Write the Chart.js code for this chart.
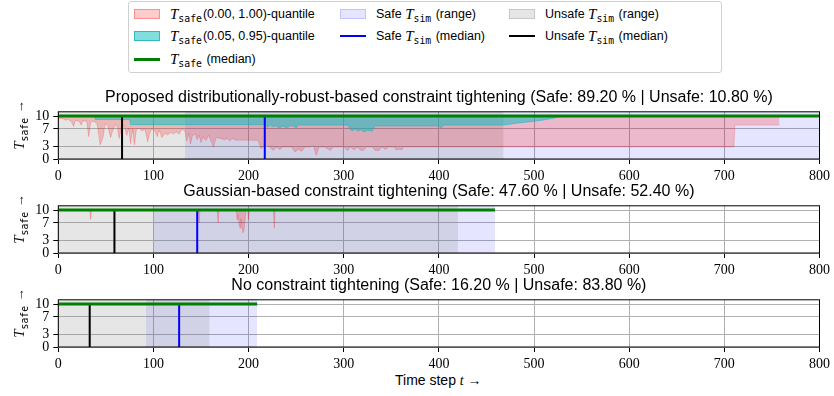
<!DOCTYPE html>
<html>
<head>
<meta charset="utf-8">
<script src="https://cdn.jsdelivr.net/npm/chart.js@4.4.1/dist/chart.umd.min.js"></script>
<style>
  body { margin:0; width:834px; height:396px; position:relative; overflow:hidden; background:#fff; font-family:'Liberation Sans', sans-serif; }
  .panel { position:absolute; left:0; width:834px; height:97px; }
  #legend { position:absolute; left:128px; top:1px; width:594px; height:72px; box-sizing:border-box; border:1px solid #d0d0d0; border-radius:3px; font-size:12.5px; color:#000; }
  .item { position:absolute; height:20px; display:flex; align-items:center; white-space:nowrap; }
  .sw { width:26px; height:10px; box-sizing:border-box; margin-right:10px; border:1px solid; }
  .ln { width:26px; height:0; border-top:2px solid; margin-right:10px; }
  .m { font-family:'Liberation Serif', serif; font-style:italic; font-size:15px; }
  .sub { font-family:'DejaVu Sans Mono', monospace; font-size:9.8px; position:relative; top:4px; margin-right:1px; }
  .ylab { position:absolute; transform:translate(-50%,-50%) rotate(-90deg); white-space:nowrap; font-size:13px; }
  #xlabel { position:absolute; left:395px; top:372px; font-size:14px; white-space:nowrap; }
</style>
</head>
<body>
<div id="legend">
  <div class="item" style="left:5px;top:2px"><span class="sw" style="background:rgba(255,0,0,0.2);border-color:rgba(255,0,0,0.3)"></span><span class="m">T</span><span class="sub">safe</span>(0.00, 1.00)-quantile</div>
  <div class="item" style="left:5px;top:24px"><span class="sw" style="background:rgba(0,191,191,0.5);border-color:rgba(0,160,170,0.6)"></span><span class="m">T</span><span class="sub">safe</span>(0.05, 0.95)-quantile</div>
  <div class="item" style="left:5px;top:47px"><span class="ln" style="border-color:#008000;border-top-width:3px"></span><span class="m">T</span><span class="sub">safe</span>&nbsp;(median)</div>
  <div class="item" style="left:211px;top:2px"><span class="sw" style="background:rgba(0,0,255,0.1);border-color:rgba(0,0,255,0.15)"></span>Safe&nbsp;<span class="m">T</span><span class="sub">sim</span>&nbsp;(range)</div>
  <div class="item" style="left:211px;top:24px"><span class="ln" style="border-color:#0000ff"></span>Safe&nbsp;<span class="m">T</span><span class="sub">sim</span>&nbsp;(median)</div>
  <div class="item" style="left:380px;top:2px"><span class="sw" style="background:rgba(128,128,128,0.2);border-color:rgba(128,128,128,0.3)"></span>Unsafe&nbsp;<span class="m">T</span><span class="sub">sim</span>&nbsp;(range)</div>
  <div class="item" style="left:380px;top:24px"><span class="ln" style="border-color:#000"></span>Unsafe&nbsp;<span class="m">T</span><span class="sub">sim</span>&nbsp;(median)</div>
</div>

<div class="panel" style="top:84px"><canvas id="c0"></canvas></div>
<div class="panel" style="top:178px"><canvas id="c1"></canvas></div>
<div class="panel" style="top:272px"><canvas id="c2"></canvas></div>

<div class="ylab" style="left:19px;top:125px"><span class="m">T</span><span class="sub">safe</span> →</div>
<div class="ylab" style="left:19px;top:219px"><span class="m">T</span><span class="sub">safe</span> →</div>
<div class="ylab" style="left:19px;top:313px"><span class="m">T</span><span class="sub">safe</span> →</div>

<div id="xlabel">Time step <span class="m" style="font-size:14px">t</span> →</div>

<script>
// axes
const X_MAX = 800;
const X_STEP = 100;
const Y_MAX = 11;
const Y_TICKS = [0, 3, 7, 10];
const HORIZON = 10;

// panels
const METHODS = [
  'Proposed distributionally-robust-based constraint tightening',
  'Gaussian-based constraint tightening',
  'No constraint tightening'
];
const SAFE_PCT = [89.20, 47.60, 16.20];
const UNSAFE_PCT = [10.80, 52.40, 83.80];

// simulation time ranges / medians
const SAFE_RANGE = [[133, 800], [100, 459], [92, 209]];
const UNSAFE_RANGE = [[0, 468], [0, 420], [0, 159]];
const SAFE_MEDIAN = [217, 146, 127];
const UNSAFE_MEDIAN = [67, 59, 33];
const T_SAFE_END = [800, 459, 209];

// T_safe 0.00-quantile (lower edge of the red band), [t, value]
const DR_Q000 = [
  [0,9.5],[5,9.4],[8,9.0],[10,9.3],[14,8.6],[16,7.6],[18,9.0],[22,8.8],[24,7.9],[26,9.0],
  [30,8.7],[32,5.2],[34,8.6],[38,8.8],[41,8.0],[44,3.3],[47,5.0],[49,8.2],[52,7.8],[55,5.0],
  [57,6.5],[60,8.0],[62,7.5],[64,4.8],[66,7.0],[69,7.8],[72,5.5],[74,7.2],[76,3.6],[78,7.0],
  [80,3.3],[82,6.8],[85,7.2],[88,6.5],[91,7.0],[94,4.0],[96,6.0],[98,7.0],[101,6.8],[104,5.2],
  [106,6.8],[109,5.0],[112,6.0],[115,5.6],[118,6.2],[121,5.8],[124,6.3],[127,5.8],[130,7.0],[133,6.5],
  [135,4.2],[137,6.0],[139,3.5],[141,5.5],[144,5.8],[146,4.5],[148,5.6],[150,3.8],[152,5.2],[155,4.3],
  [158,5.5],[160,4.5],[163,2.8],[166,5.0],[170,4.8],[175,4.5],[178,4.8],[180,4.2],[183,4.8],[186,4.4],
  [210,4.35],[213,2.4],[216,3.0],[219,3.2],[222,2.8],[226,2.0],[229,2.8],[233,2.2],[236,2.8],[245,2.8],
  [249,1.6],[252,2.3],[256,1.8],[259,2.8],[265,2.8],[268,3.2],[271,0.9],[274,2.8],[280,2.8],[286,2.0],
  [289,2.8],[300,2.8],[304,2.0],[307,2.8],[311,2.1],[314,2.8],[318,2.0],[321,2.1],[324,2.8],[330,2.8],
  [333,2.0],[337,2.0],[340,2.8],[344,2.2],[347,2.8],[353,2.8],[355,2.1],[358,2.3],[361,2.1],[363,2.8],
  [710,2.8],[711,7.9],[758,7.9]
];
const GAUSS_Q000 = [
  [0,10],[33,10],[34,7.8],[35,10],[147,10],[148,7.0],[149,10],[167,10],[168,7.0],[169,10],
  [187,10],[188,7.7],[189,9.0],[190,6.5],[191,5.8],[192,8.0],[193,6.0],[194,4.7],[195,5.0],[196,7.0],
  [197,10],[199,10],[200,7.8],[201,10],[226,10],[227,5.8],[228,10],[459,10]
];
// T_safe 0.05-quantile (lower edge of the cyan band)
const DR_Q005 = [
  [0,10],[38,10],[39,9.2],[75,9.2],[76,8.0],[218,8.0],[220,7.4],[223,7.9],[226,7.5],[229,7.8],
  [232,7.2],[236,7.7],[240,7.3],[244,7.8],[248,7.6],[250,7.2],[252,7.9],[305,7.9],[306,7.0],[309,6.6],
  [312,7.0],[315,6.5],[318,6.8],[321,6.3],[325,6.7],[330,6.5],[333,7.7],[400,7.7],[402,7.2],[405,7.9],
  [468,7.9],[480,8.3],[500,8.8],[510,9.1],[520,9.5],[530,10]
];
const Q000 = [DR_Q000, GAUSS_Q000, []];
const Q005 = [DR_Q005, [], []];

const GREEN = '#008000', BLUE = '#0000ff', BLACK = '#000000';
const RED_FILL = 'rgba(255,0,0,0.2)', CYAN_FILL = 'rgba(0,191,191,0.5)';
const SAFE_FILL = 'rgba(0,0,255,0.1)', UNSAFE_FILL = 'rgba(128,128,128,0.2)';

const pts = arr => arr.map(p => ({ x: p[0], y: p[1] }));

const frame = {
  id: 'frame',
  afterDraw(chart) {
    const { ctx, chartArea: a } = chart;
    ctx.save();
    ctx.strokeStyle = '#000';
    ctx.lineWidth = 1;
    ctx.strokeRect(a.left, a.top, a.right - a.left, a.bottom - a.top);
    ctx.restore();
  }
};

function makePanel(i) {
  const title = `${METHODS[i]} (Safe: ${SAFE_PCT[i].toFixed(2)} % | Unsafe: ${UNSAFE_PCT[i].toFixed(2)} %)`;
  const datasets = [
    { data: pts([[0, HORIZON], [T_SAFE_END[i], HORIZON]]), borderColor: GREEN, borderWidth: 3, order: 0 },
    { data: pts([[SAFE_MEDIAN[i], 0], [SAFE_MEDIAN[i], HORIZON]]), borderColor: BLUE, borderWidth: 2, order: 1 },
    { data: pts([[UNSAFE_MEDIAN[i], 0], [UNSAFE_MEDIAN[i], HORIZON]]), borderColor: BLACK, borderWidth: 2, order: 1 },
    { data: pts(Q005[i]), fill: { value: HORIZON }, backgroundColor: CYAN_FILL, borderColor: 'rgba(0,191,191,0.5)', borderWidth: 1, order: 2 },
    { data: pts(Q000[i]), fill: { value: HORIZON }, backgroundColor: RED_FILL, borderColor: 'rgba(255,0,0,0.2)', borderWidth: 1, order: 3 },
    { data: pts([[UNSAFE_RANGE[i][0], Y_MAX], [UNSAFE_RANGE[i][1], Y_MAX]]), fill: 'start', backgroundColor: UNSAFE_FILL, borderWidth: 0, order: 4 },
    { data: pts([[SAFE_RANGE[i][0], Y_MAX], [SAFE_RANGE[i][1], Y_MAX]]), fill: 'start', backgroundColor: SAFE_FILL, borderWidth: 0, order: 5 }
  ];
  new Chart(document.getElementById('c' + i), {
    type: 'line',
    data: { datasets },
    plugins: [frame],
    options: {
      responsive: true, maintainAspectRatio: false, animation: false,
      layout: { padding: { left: 0, right: 11, top: 0, bottom: 0 } },
      elements: { point: { radius: 0 }, line: { tension: 0 } },
      plugins: {
        legend: { display: false }, tooltip: { enabled: false },
        title: { display: true, text: title, fullSize: false, color: '#000',
          font: { family: 'Liberation Sans', size: 16, weight: 'normal' }, padding: { top: 4, bottom: 4.6 } }
      },
      scales: {
        x: {
          type: 'linear', min: 0, max: X_MAX,
          ticks: { stepSize: X_STEP, color: '#000', padding: 4, maxRotation: 0, font: { family: 'Liberation Serif', size: 14 } },
          grid: { color: '#b0b0b0', tickColor: '#000', tickLength: 5 },
          border: { display: false },
          afterFit: s => { s.height = 22; }
        },
        y: {
          min: 0, max: Y_MAX,
          afterBuildTicks: s => { s.ticks = Y_TICKS.map(v => ({ value: v })); },
          ticks: { color: '#000', padding: 4, autoSkip: false, font: { family: 'Liberation Serif', size: 14 } },
          grid: { color: '#b0b0b0', tickColor: '#000', tickLength: 5 },
          border: { display: false },
          afterFit: s => { s.width = 58.3; }
        }
      }
    }
  });
}

[0, 1, 2].forEach(makePanel);
</script>
</body>
</html>
